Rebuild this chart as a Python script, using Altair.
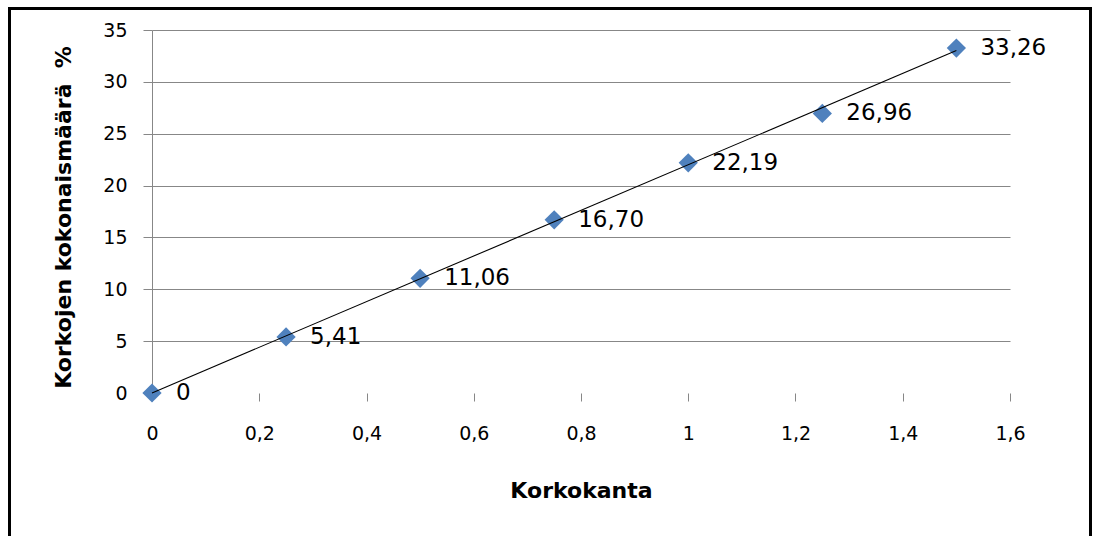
import altair as alt
import pandas as pd

# Interest rate (x) and total interest amount in percent (y)
rates = [0, 0.25, 0.5, 0.75, 1.0, 1.25, 1.5]
totals = [0, 5.41, 11.06, 16.70, 22.19, 26.96, 33.26]
point_labels = [("0" if v == 0 else f"{v:.2f}".replace(".", ",")) for v in totals]

x_ticks = [0, 0.2, 0.4, 0.6, 0.8, 1.0, 1.2, 1.4, 1.6]
y_ticks = [0, 5, 10, 15, 20, 25, 30, 35]

df = pd.DataFrame({"rate": rates, "total": totals, "label": point_labels})

FONT = "DejaVu Sans"
GRAY = "#878787"
BLUE = "#4F81BD"

x_enc = alt.X(
    "rate:Q",
    scale=alt.Scale(domain=[0, 1.6], nice=False, zero=False),
    axis=alt.Axis(
        title="Korkokanta",
        values=x_ticks,
        labelExpr="replace(format(datum.value, '~g'), '.', ',')",
        labelFlush=False,
        grid=False,
        domain=False,
        ticks=True,
        tickSize=8,
        tickColor=GRAY,
        labelPadding=23,
        labelFontSize=19,
        titleFontSize=22,
        titleY=104,
        titleBaseline="alphabetic",
    ),
)
y_enc = alt.Y(
    "total:Q",
    scale=alt.Scale(domain=[0, 35], nice=False),
    axis=alt.Axis(
        title="Korkojen kokonaismäärä \u00a0%",
        values=y_ticks,
        grid=True,
        gridColor=GRAY,
        gridOpacity={"condition": {"test": "datum.value === 0", "value": 0}, "value": 1},
        domain=True,
        domainColor=GRAY,
        tickSize=9,
        tickColor=GRAY,
        labelPadding=16,
        labelFontSize=19,
        titleFontSize=22,
        titleX=-82,
        titleY=187,
        titleBaseline="alphabetic",
        titleAlign="center",
    ),
)

base = alt.Chart(df)

points = base.mark_point(shape="diamond", filled=True, size=370, color=BLUE, opacity=1).encode(
    x=x_enc, y=y_enc
)

labels = base.mark_text(
    align="left", baseline="middle", dx=24, font=FONT, fontSize=23, color="#000000"
).encode(x="rate:Q", y="total:Q", text="label:N")

trend = (
    base.transform_regression("rate", "total", method="linear", extent=[0, 1.5])
    .mark_line(color="#000000", strokeWidth=1.1)
    .encode(x="rate:Q", y="total:Q")
)

frame = (
    alt.Chart(pd.DataFrame({"k": [0]}))
    .mark_rect(fill=None, stroke="#000000", strokeWidth=3)
    .encode(
        x=alt.value(-142.5),
        x2=alt.value(938.5),
        y=alt.value(-21.5),
        y2=alt.value(520),
    )
)

chart = (
    alt.layer(points, trend, labels, frame)
    .properties(
        width=858,
        height=363,
        autosize=alt.AutoSizeParams(type="none"),
        padding={"left": 152, "top": 30, "right": 88, "bottom": 143},
        background="white",
    )
    .configure_view(stroke=None)
    .configure_axis(
        labelFont=FONT,
        titleFont=FONT,
        labelColor="#000000",
        titleColor="#000000",
        titleFontWeight="bold",
    )
)

chart.save("out.html", embed_options={"renderer": "svg", "actions": False})
